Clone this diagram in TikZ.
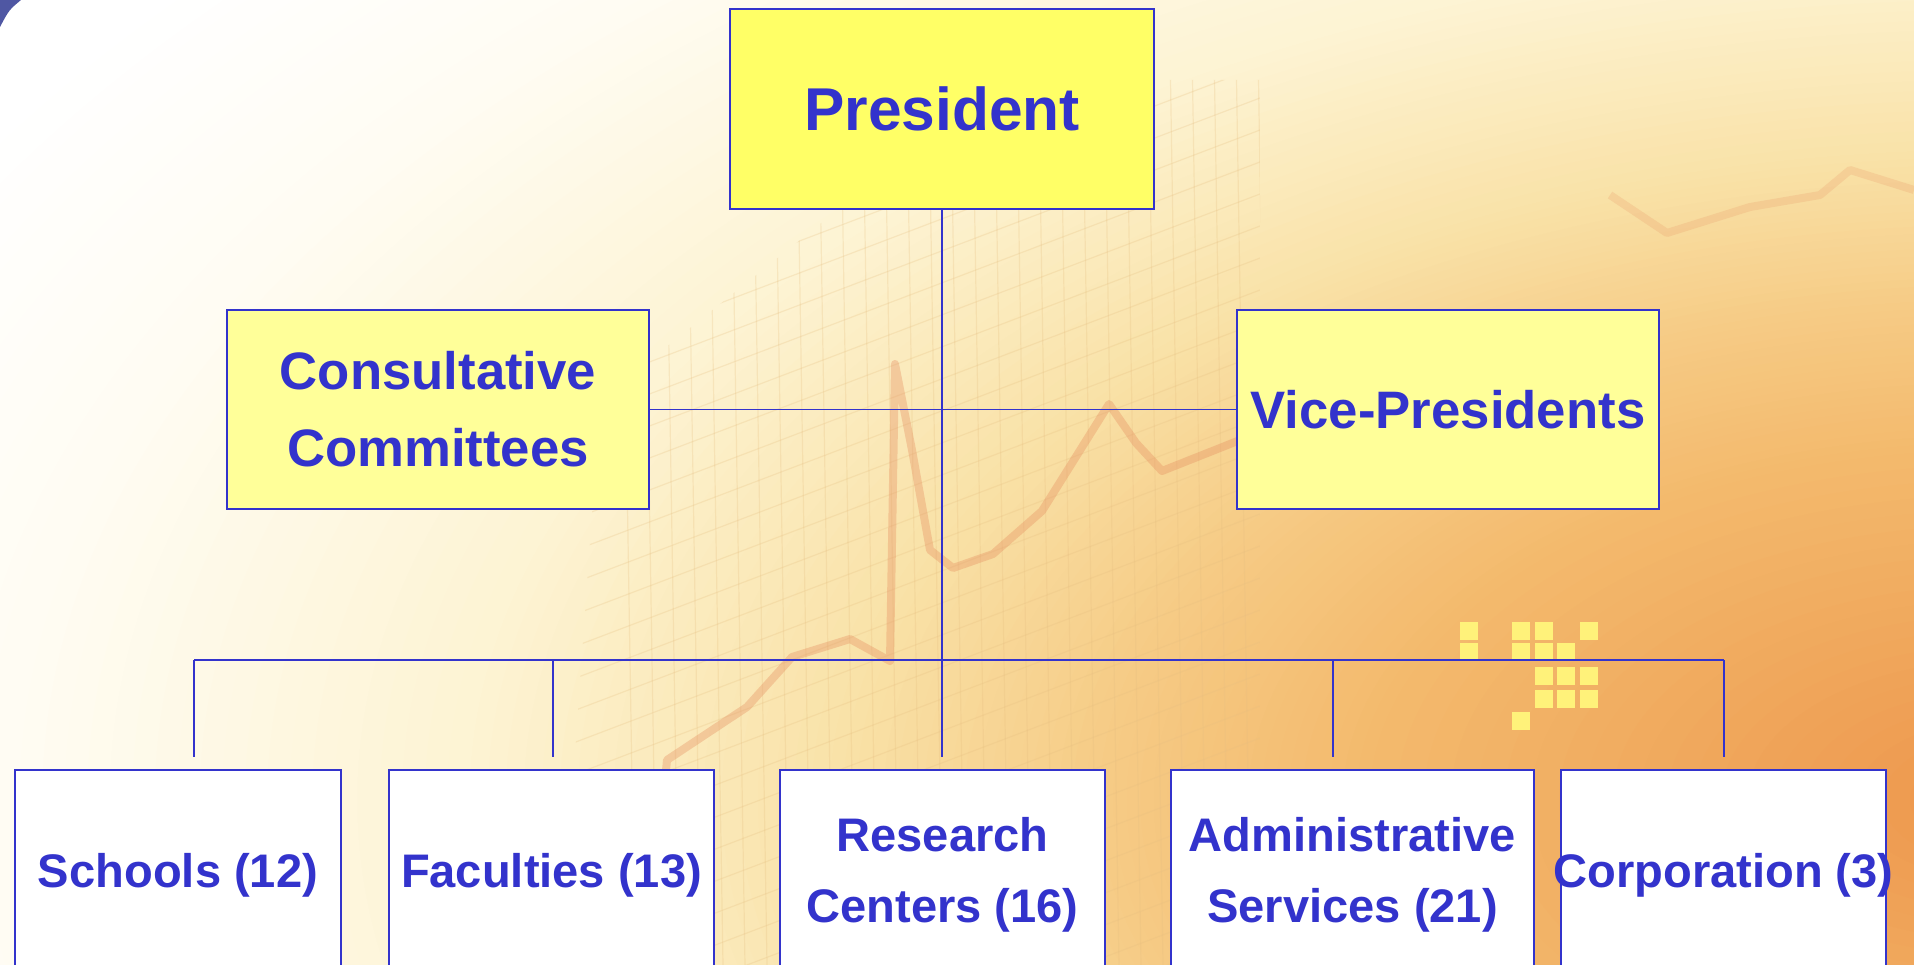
\documentclass[tikz,border=0pt]{standalone}
\usepackage{fontspec}
\setmainfont{Liberation Sans}
\usepackage{xcolor}
\usepackage{tikz}
\definecolor{ink}{HTML}{3333CC}
\definecolor{chiefbg}{HTML}{FFFF66}
\definecolor{councilbg}{HTML}{FFFF99}
\definecolor{paper}{HTML}{FFFCF2}
\definecolor{cream}{HTML}{FDF3D2}
\definecolor{sand}{HTML}{F9E2A8}
\definecolor{tan}{HTML}{F6CB85}
\definecolor{amber}{HTML}{F3B96C}
\definecolor{rust}{HTML}{EE9A50}
\definecolor{corner}{HTML}{4F57A3}
\definecolor{gridtan}{HTML}{E6BE80}
\definecolor{chartred}{HTML}{E58C5E}
\definecolor{pixel}{HTML}{FFF27A}
\tikzset{
  box/.style={draw=ink, line width=0.17mm, text=ink, align=center, inner sep=0pt},
  chief/.style={box, fill=chiefbg, minimum width=4.24cm, minimum height=2cm,
    font=\bfseries\fontsize{17.2pt}{20pt}\selectfont},
  council/.style={box, fill=councilbg, minimum width=4.22cm, minimum height=1.99cm,
    font=\bfseries\fontsize{15pt}{21.9pt}\selectfont},
  unit/.style={box, fill=white, minimum width=#1, minimum height=2.1cm,
    font=\bfseries\fontsize{13.4pt}{20.2pt}\selectfont},
  unit/.default=3.25cm,
  link/.style={draw=ink, line width=0.13mm},
  gridline/.style={draw=gridtan, line width=0.12mm, opacity=0.25},
  chartline/.style={draw=chartred, line width=0.8mm, opacity=0.35, line join=round},
}

\begin{document}
\begin{tikzpicture}[x=1cm,y=-1cm]
  \useasboundingbox (0,0) rectangle (19.14,9.65);
  \clip (0,0) rectangle (19.14,9.65);
  \fill[white] (0,0) rectangle (19.14,9.65);
  \foreach \a/\b/\ca/\cb in {13/11/white/paper, 11/8.5/paper/cream, 8.5/6.5/cream/sand,
      6.5/5/sand/tan, 5/3.5/tan/amber, 3.5/0.5/amber/rust}
    \foreach \t in {0,5,...,100}
      \fill[\cb!\t!\ca] (20,8) ellipse [x radius={1.8*(\a-(\a-\b)*\t/100)}, y radius={\a-(\a-\b)*\t/100}];
  \fill[corner] (0,0) -- (0.21,0) .. controls (0.09,0.1) .. (0,0.27) -- cycle;

  \begin{scope}
    \clip (5.6,9.65) -- (6.0,4.0) -- (10.0,0.8) -- (12.6,0.8) -- (12.6,9.65) -- cycle;
    \foreach \x in {6.2,6.42,...,12.6}
      \draw[gridline] (\x,0.5) -- (\x+0.15,9.65);
    \foreach \y in {3.0,3.32,...,13.5}
      \draw[gridline] (5.6,\y) -- (12.6,\y-2.66);
  \end{scope}
  \draw[chartline] (6.47,9.65) -- (6.67,7.60) -- (7.47,7.07) -- (7.92,6.57) -- (8.50,6.39)
    -- (8.90,6.61) -- (8.95,3.64) -- (9.12,4.50) -- (9.30,5.50) -- (9.53,5.68)
    -- (9.93,5.54) -- (10.42,5.11) -- (11.09,4.04) -- (11.36,4.43) -- (11.62,4.71)
    -- (12.25,4.46) -- (12.40,4.40);
  \draw[chartline,opacity=0.2] (16.1,1.95) -- (16.67,2.33) -- (17.5,2.07) -- (18.2,1.95)
    -- (18.5,1.70) -- (19.14,1.90);
  \foreach \x/\y in {14.6/6.22, 14.6/6.43, 15.12/6.22, 15.12/6.43, 15.35/6.22, 15.35/6.43,
    15.57/6.43, 15.8/6.22, 15.35/6.67, 15.57/6.67, 15.8/6.67, 15.35/6.9, 15.57/6.9,
    15.8/6.9, 15.12/7.12, 16.12/4.67}
    \fill[pixel] (\x,\y) rectangle ++(0.18,0.18);

  \node[chief] (pres) at (9.42,1.09) {President};
  \node[council] (consult) at (4.38,4.095) {Consultative\\Committees};
  \node[council] (vice) at (14.48,4.095) {Vice-Presidents};

  \node[unit=3.26cm] (schools) at (1.78,8.75) {Schools (12)};
  \node[unit] (faculties) at (5.515,8.75) {Faculties (13)};
  \node[unit] (research) at (9.425,8.75) {Research\\Centers (16)};
  \node[unit=3.63cm] (admin) at (13.525,8.75) {Administrative\\Services (21)};
  \node[unit] (corp) at (17.235,8.75) {\makebox[0pt]{Corporation (3)}};

  \coordinate (b1) at (1.94,6.60);
  \coordinate (b2) at (5.53,6.60);
  \coordinate (b3) at (9.42,6.60);
  \coordinate (b4) at (13.33,6.60);
  \coordinate (b5) at (17.24,6.60);

  \draw[link] (consult.east) -- (vice.west);
  \draw[link] (b1) -- (b5);
  \draw[link,shorten >=0.12cm] (pres.south) -- (pres.south |- research.north);
  \foreach \n in {1,2,4,5}
    \draw[link,shorten >=0.12cm] (b\n) -- (b\n |- schools.north);
\end{tikzpicture}
\end{document}
